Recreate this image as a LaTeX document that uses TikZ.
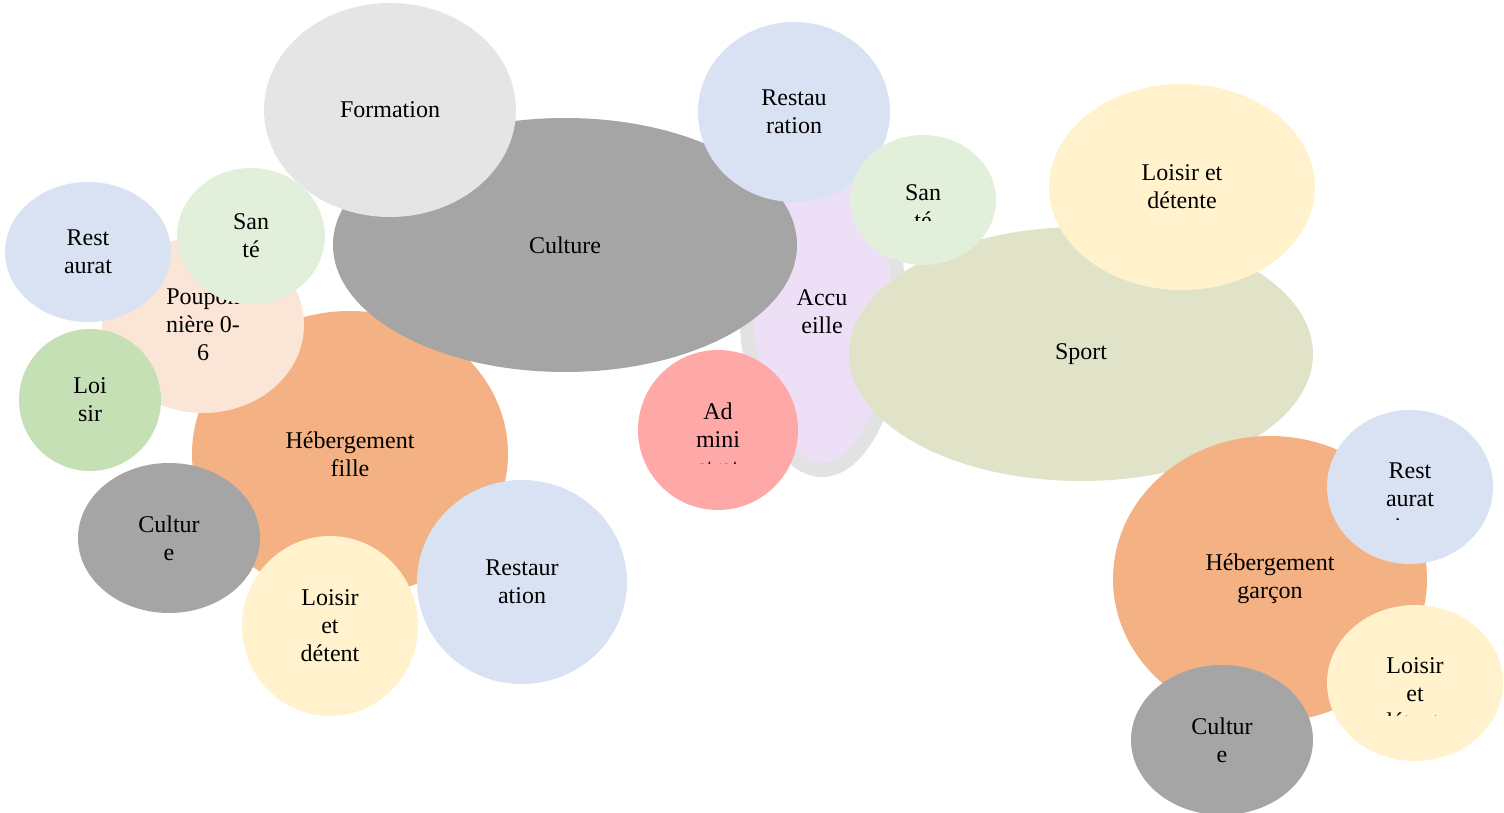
\documentclass[tikz,border=0pt]{standalone}
\usepackage{fontspec}
\setmainfont{Liberation Serif}
\usetikzlibrary{shapes.geometric}

\definecolor{gris}{HTML}{A5A5A5}
\definecolor{grisclair}{HTML}{E5E5E5}
\definecolor{bordure}{HTML}{E2E2E2}
\definecolor{bleu}{HTML}{D9E2F3}
\definecolor{vertclair}{HTML}{E2EFDA}
\definecolor{vert}{HTML}{C5E0B4}
\definecolor{lavande}{HTML}{ECDFF6}
\definecolor{rouge}{HTML}{FFA8A8}
\definecolor{olive}{HTML}{E0E3C8}
\definecolor{jaune}{HTML}{FFF2CC}
\definecolor{orange}{HTML}{F4B183}
\definecolor{peche}{HTML}{FBE5D6}

\begin{document}
\begin{tikzpicture}[x=0.75pt, y=-0.75pt, font=\fontsize{18}{21}\selectfont,
    bulle/.style={ellipse, inner sep=0pt, align=center, text=black},
    rayons/.style 2 args={minimum width=#1*1.5pt, minimum height=#2*1.5pt}]
    \useasboundingbox (0,0) rectangle (1504,813);

    % Accueil (fond avec bordure grise)
    \node[bulle, fill=lavande, draw=bordure, line width=10.5pt, rayons={76}{169}] (accueil) at (822,301) {};
    \node[align=center] (taccueil) at (822,312) {Accu\\eille};

    % Sport et son loisir
    \node[bulle, fill=olive, rayons={232}{127}] (sport) at (1081,354) {Sport};

    % Bloc gauche : hebergement fille et pouponniere
    \node[bulle, fill=orange, rayons={158}{143}] (hfille) at (350,454) {Hébergement\\fille};
    \node[bulle, fill=peche, rayons={101}{88}] (poupon) at (203,325) {Poupon\\nière 0-\\6};

    % Culture, formation, restauration (haut)
    \node[bulle, fill=gris, rayons={232}{127}] (culture) at (565,245) {Culture};
    \node[bulle, fill=grisclair, rayons={126}{107}] (formation) at (390,110) {Formation};
    \node[bulle, fill=bleu, rayons={96}{90}] (resto) at (794,112) {Restau\\ration};

    \node[bulle, fill=vertclair, rayons={73}{65}] (sante) at (923,200) {};
    \begin{scope}
        \clip (850,150) rectangle (996,221);
        \node[align=center] (tsante) at (923,207) {San\\té};
    \end{scope}

    \node[bulle, fill=jaune, rayons={133}{103}] (loisirsport) at (1182,187) {Loisir et\\détente};

    % Administration
    \node[bulle, fill=rouge, rayons={80}{80}] (admin) at (718,430) {};
    \begin{scope}
        \clip (640,380) rectangle (796,463);
        \node[align=center] (tadmin) at (718,439) {Ad\\mini\\strat};
    \end{scope}

    % Satellites de la pouponniere
    \node[bulle, fill=bleu, rayons={83}{70}] (restpoupon) at (88,252) {Rest\\aurat};
    \node[bulle, fill=vertclair, rayons={74}{68}] (santepoupon) at (251,236) {San\\té};
    \node[bulle, fill=vert, rayons={71}{71}] (loisirpoupon) at (90,400) {Loi\\sir};

    % Satellites de l'hebergement fille
    \node[bulle, fill=gris, rayons={91}{75}] (culturefille) at (169,538) {Cultur\\e};
    \node[bulle, fill=jaune, rayons={88}{90}] (loisirfille) at (330,626) {Loisir\\et\\détent};
    \node[bulle, fill=bleu, rayons={105}{102}] (restofille) at (522,582) {Restaur\\ation};

    % Hebergement garcon et satellites
    \node[bulle, fill=orange, rayons={157}{143}] (hgarcon) at (1270,579) {Hébergement\\garçon};

    \node[bulle, fill=bleu, rayons={83}{77}] (restogarcon) at (1410,487) {};
    \begin{scope}
        \clip (1330,430) rectangle (1490,519);
        \node[align=center] (trestogarcon) at (1410,499) {Rest\\aurat\\ion};
    \end{scope}

    \node[bulle, fill=jaune, rayons={88}{78}] (loisirgarcon) at (1415,683) {};
    \begin{scope}
        \clip (1330,620) rectangle (1500,715);
        \node[align=center] (tloisirgarcon) at (1415,694) {Loisir\\et\\détente};
    \end{scope}

    \node[bulle, fill=gris, rayons={91}{75}] (culturegarcon) at (1222,740) {Cultur\\e};
\end{tikzpicture}
\end{document}
